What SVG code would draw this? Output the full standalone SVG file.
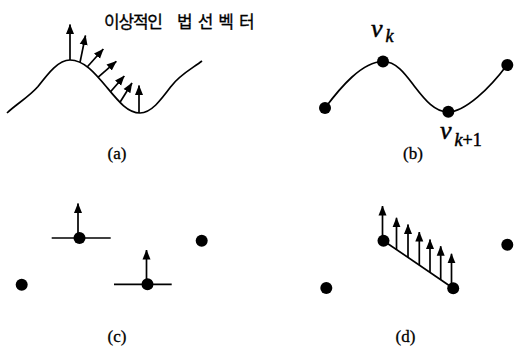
<svg xmlns="http://www.w3.org/2000/svg" width="516" height="347" viewBox="0 0 516 347">
  <defs>
    <marker id="ah" markerUnits="userSpaceOnUse" markerWidth="10" markerHeight="9" viewBox="0 0 10 9" refX="9.5" refY="4.5" orient="auto">
      <path d="M0,0.5 L10,4.5 L0,8.5 z" fill="#000"/>
    </marker>
  </defs>
  <style>
    .curve { fill: none; stroke: #000; stroke-width: 1.7; }
    .arr { fill: none; stroke: #000; stroke-width: 1.7; marker-end: url(#ah); }
    .ln { fill: none; stroke: #000; stroke-width: 1.7; }
    .dot { fill: #000; }
    .lbl { font-family: "Liberation Serif", serif; font-size: 17px; text-anchor: middle; fill: #000; stroke: #000; stroke-width: 0.3; }
    .v { font-family: "Liberation Serif", serif; font-style: italic; fill: #000; stroke: #000; stroke-width: 0.5; }
    .kr { font-family: "Noto Sans CJK KR", "Noto Sans", sans-serif; font-size: 17px; fill: #000; stroke: #000; stroke-width: 0.3; }
  </style>

  <!-- Panel (a) -->
  <g id="panel-a">
    <text class="kr" y="27.5"><tspan x="104" letter-spacing="-1.2">이상적인</tspan><tspan x="177" letter-spacing="5">법선벡터</tspan></text>
    <path class="curve" d="M7,113 C15,105 29,97 38,86.5 C48.7,72.6 58.5,60 70,60 C84,60 95,73 107,87.5 C119,102 128,113 140,113 C151.2,113 160.6,100.4 171,86.5 C180,74.4 193,68 202,61"/>
    <g id="normals-a">
      <line class="arr" x1="70" y1="60" x2="70" y2="24.5"/>
      <line class="arr" x1="80" y1="62.3" x2="85.5" y2="35.5"/>
      <line class="arr" x1="87.4" y1="66.8" x2="103.3" y2="49"/>
      <line class="arr" x1="98.2" y1="77.1" x2="116.3" y2="61.3"/>
      <line class="arr" x1="110.5" y1="91.7" x2="124.3" y2="76"/>
      <line class="arr" x1="120" y1="102.3" x2="132" y2="83"/>
      <line class="arr" x1="139" y1="113" x2="139" y2="85.5"/>
    </g>
    <text class="lbl" x="117" y="159">(a)</text>
  </g>

  <!-- Panel (b) -->
  <g id="panel-b">
    <path class="curve" d="M325,108 C340,88 362,61.5 383,61.5 C397,61.5 406,75 415,87 C425,100 435,112 448,112 C465,112 490,88 507,65"/>
    <circle id="b-p0" class="dot" cx="325" cy="108" r="6"/>
    <circle id="b-vk" class="dot" cx="383" cy="61.5" r="6"/>
    <circle id="b-vk1" class="dot" cx="448.3" cy="111.7" r="6"/>
    <circle id="b-p3" class="dot" cx="507.3" cy="65" r="6"/>
    <text class="v" x="371" y="36.5" font-size="26">v</text>
    <text class="v" x="385.5" y="41.5" font-size="18">k</text>
    <text class="v" x="440" y="139" font-size="26">v</text>
    <text class="v" x="454.5" y="146" font-size="18">k<tspan font-style="normal">+1</tspan></text>
    <text class="lbl" x="413" y="159">(b)</text>
  </g>

  <!-- Panel (c) -->
  <g id="panel-c">
    <circle id="c-p0" class="dot" cx="21.7" cy="284.7" r="6"/>
    <g id="c-p1">
      <line class="ln" x1="51.7" y1="238" x2="110.7" y2="238"/>
      <line class="arr" x1="78" y1="238" x2="78" y2="203.5"/>
      <circle class="dot" cx="79.5" cy="238" r="6"/>
    </g>
    <g id="c-p2">
      <line class="ln" x1="114" y1="284.3" x2="171.7" y2="284.3"/>
      <line class="arr" x1="146.5" y1="284.3" x2="146.5" y2="250"/>
      <circle class="dot" cx="147.5" cy="284.3" r="6"/>
    </g>
    <circle id="c-p3" class="dot" cx="201.7" cy="240.7" r="6"/>
    <text class="lbl" x="117" y="342">(c)</text>
  </g>

  <!-- Panel (d) -->
  <g id="panel-d">
    <circle id="d-p0" class="dot" cx="326.3" cy="288" r="6"/>
    <line class="ln" x1="383.5" y1="240.7" x2="453.2" y2="288.2"/>
    <g id="normals-d">
      <line class="arr" x1="382.5" y1="240.7" x2="382.5" y2="206"/>
      <line class="arr" x1="396.5" y1="249.6" x2="396.5" y2="217.8"/>
      <line class="arr" x1="408" y1="257.4" x2="408" y2="224.5"/>
      <line class="arr" x1="419.3" y1="265.1" x2="419.3" y2="232"/>
      <line class="arr" x1="430" y1="272.4" x2="430" y2="239.5"/>
      <line class="arr" x1="440.7" y1="279.7" x2="440.7" y2="246.2"/>
      <line class="arr" x1="451.5" y1="287" x2="451.5" y2="253.8"/>
    </g>
    <circle id="d-p1" class="dot" cx="383.5" cy="240.7" r="6"/>
    <circle id="d-p2" class="dot" cx="453.2" cy="288.2" r="6"/>
    <circle id="d-p3" class="dot" cx="507.3" cy="244.7" r="6"/>
    <text class="lbl" x="405.5" y="342">(d)</text>
  </g>
</svg>
